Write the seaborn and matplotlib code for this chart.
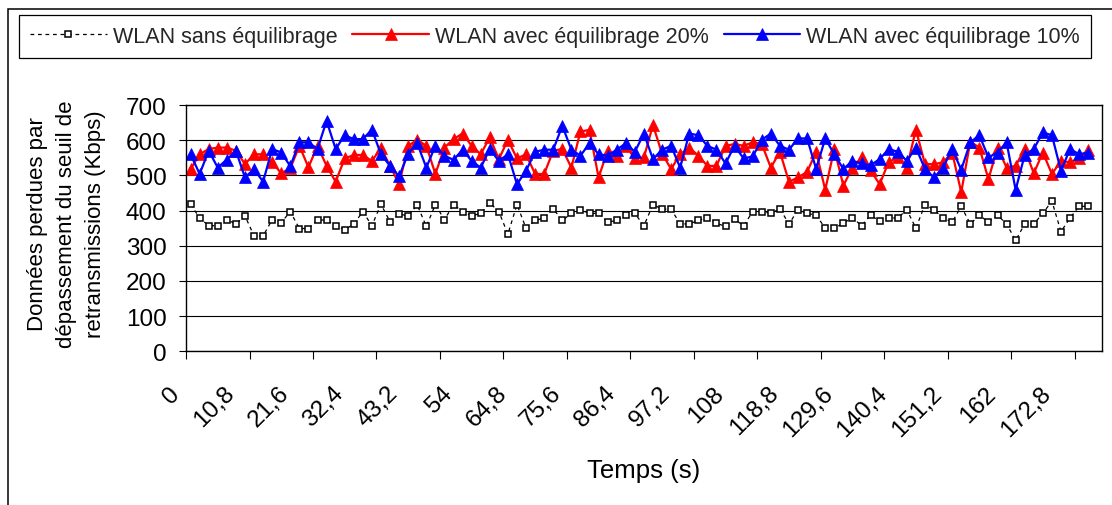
import numpy as np
import pandas as pd
import matplotlib
matplotlib.use("Agg")
import matplotlib.pyplot as plt
import seaborn as sns
from matplotlib.patches import Rectangle
from matplotlib.transforms import ScaledTranslation

# temps (s), un point toutes les 1,8 s
temps = np.round(np.arange(100) * 1.8, 1)

sans_eq = [418, 379, 357, 357, 374, 362, 385, 328, 328, 374,
           366, 397, 349, 349, 373, 373, 357, 345, 362, 397,
           357, 418, 368, 390, 385, 416, 355, 417, 374, 417,
           397, 385, 392, 422, 397, 333, 417, 350, 372, 379,
           405, 372, 392, 402, 392, 392, 367, 372, 387, 392,
           357, 417, 404, 404, 362, 362, 372, 380, 364, 355,
           375, 357, 397, 397, 392, 405, 362, 402, 392, 387,
           350, 350, 364, 380, 357, 387, 370, 379, 379, 402,
           350, 417, 402, 379, 367, 412, 362, 387, 367, 387,
           362, 315, 362, 362, 392, 427, 340, 379, 412, 412]

avec_20 = [518, 560, 575, 579, 579, 570, 532, 560, 560, 537,
           506, 520, 584, 523, 584, 527, 482, 548, 558, 558,
           541, 577, 527, 475, 584, 601, 584, 504, 579, 603,
           619, 584, 560, 608, 546, 601, 548, 560, 504, 504,
           570, 575, 522, 625, 629, 494, 570, 556, 584, 548,
           551, 643, 562, 518, 560, 579, 556, 527, 527, 584,
           589, 584, 594, 589, 522, 567, 482, 494, 510, 567,
           459, 575, 471, 522, 551, 514, 475, 538, 551, 522,
           630, 532, 532, 537, 565, 452, 596, 579, 489, 579,
           522, 527, 575, 506, 565, 504, 541, 537, 548, 573]

avec_10 = [560, 504, 570, 522, 545, 570, 494, 518, 482, 575,
           565, 526, 594, 594, 575, 655, 575, 614, 603, 603,
           630, 560, 527, 497, 562, 591, 522, 584, 556, 544,
           573, 541, 522, 575, 541, 560, 475, 513, 567, 573,
           573, 641, 573, 556, 591, 560, 556, 573, 591, 567,
           619, 546, 573, 584, 522, 619, 614, 584, 573, 534,
           584, 548, 554, 601, 619, 584, 573, 605, 605, 518,
           605, 560, 518, 541, 534, 529, 546, 575, 567, 541,
           579, 518, 494, 522, 575, 516, 594, 614, 551, 565,
           594, 459, 558, 575, 622, 614, 513, 575, 560, 565]

positions_etiquettes = [0, 10.8, 21.6, 32.4, 43.2, 54, 64.8, 75.6, 86.4,
                        97.2, 108, 118.8, 129.6, 140.4, 151.2, 162, 172.8]
etiquettes = ["0", "10,8", "21,6", "32,4", "43,2", "54", "64,8", "75,6", "86,4",
              "97,2", "108", "118,8", "129,6", "140,4", "151,2", "162", "172,8"]

series = ["WLAN sans équilibrage", "WLAN avec équilibrage 20%",
          "WLAN avec équilibrage 10%"]

df = pd.DataFrame({"temps": temps, series[0]: sans_eq,
                   series[1]: avec_20, series[2]: avec_10})
df = df.melt(id_vars="temps", var_name="serie", value_name="kbps")

sns.set_theme(style="white")
plt.rcParams['font.family'] = ['Liberation Sans', 'DejaVu Sans']

fig = plt.figure(figsize=(11.12, 5.06), dpi=100)
ax = fig.add_axes([0.1673, 0.3037, 0.8235, 0.4868])

styles = {
    series[0]: dict(color='black', marker='s', markersize=5,
                    markerfacecolor='white', markeredgecolor='black',
                    markeredgewidth=1.1, linewidth=0.9, linestyle=(0, (3, 3))),
    series[1]: dict(color='#FF0000', marker='^', markersize=8,
                    markerfacecolor='#FF0000', markeredgecolor='#FF0000',
                    markeredgewidth=0.5, linewidth=1.6),
    series[2]: dict(color='#0000FF', marker='^', markersize=8,
                    markerfacecolor='#0000FF', markeredgecolor='#0000FF',
                    markeredgewidth=0.5, linewidth=1.6),
}
for s in series:
    sns.lineplot(data=df[df.serie == s], x='temps', y='kbps', ax=ax,
                 label=s, errorbar=None, **styles[s])

ax.set_xlim(-0.9, 180.9)
ax.set_ylim(0, 700)
ax.set_yticks(range(0, 701, 100))
ax.yaxis.grid(True, color='black', linewidth=0.8)
ax.xaxis.grid(False)
ax.set_axisbelow(True)
for sp in ax.spines.values():
    sp.set_color('black')
    sp.set_linewidth(1.0)

ax.tick_params(axis='y', left=True, direction='out', length=5, width=0.8,
               color='black', pad=9, labelsize=17.5, labelcolor='black')
ax.set_xticks(positions_etiquettes)
ax.set_xticklabels(etiquettes, rotation=45, ha='right', va='top')
ax.set_xticks(np.arange(-0.9, 180, 12.6), minor=True)
ax.tick_params(axis='x', which='major', length=0, pad=22, labelsize=17.5,
               labelcolor='black')
ax.tick_params(axis='x', which='minor', bottom=True, direction='out',
               length=6, width=0.8, color='black')
for lab in ax.get_xticklabels():
    lab.set_transform(lab.get_transform() +
                      ScaledTranslation(-6 / 100, 0, fig.dpi_scale_trans))

ax.set_xlabel("Temps (s)", fontsize=18.5, color='black', va='center')
ax.xaxis.set_label_coords(0.5, -0.48)
ax.set_ylabel("Données perdues par\ndépassement du seuil de\nretransmissions (Kbps)",
              fontsize=16, color='black', linespacing=1.5, va='center', ha='center')
ax.yaxis.set_label_coords(-0.13, 0.52)

handles, labels = ax.get_legend_handles_labels()
if ax.get_legend() is not None:
    ax.get_legend().remove()
leg = fig.legend(handles, labels, loc='center', bbox_to_anchor=(0.4991, 0.9259),
                 ncol=3, frameon=True, fancybox=False, edgecolor='black',
                 fontsize=15.5, handlelength=3.55, handletextpad=0.28,
                 columnspacing=0.7, borderpad=0.5, borderaxespad=0)
leg.get_frame().set_linewidth(0.9)
leg.get_frame().set_alpha(1)

# cadre extérieur du graphique
fig.add_artist(Rectangle((8 / 1112, -0.05), 1.1, 1.0302, transform=fig.transFigure,
                         fill=False, edgecolor='black', linewidth=1.1))

fig.savefig('out.png', dpi=100)
